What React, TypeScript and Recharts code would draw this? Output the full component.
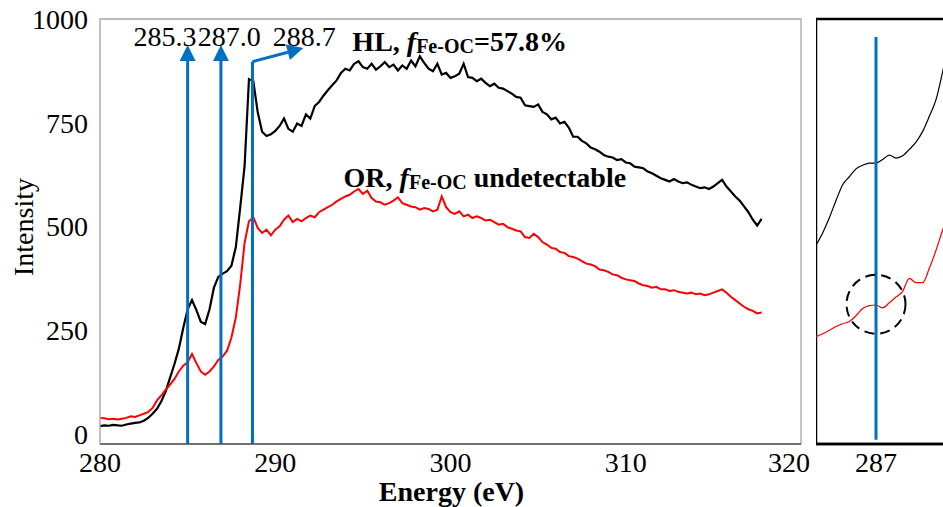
import React from "react";
import {
  LineChart,
  Line,
  XAxis,
  YAxis,
  ReferenceLine,
  ReferenceArea,
  ReferenceDot,
} from "recharts";

const FONT = '"Liberation Serif", "Times New Roman", serif';
const BLUE = "#0070C0";

// sampling grid of the main spectra (eV)
const E_START = 280;
const E_STEP = 0.25;

// HL sample, 280.00 .. 317.75 eV
const hlIntensity = [
  18, 20, 19, 21, 20, 19, 22, 24,
  26, 27, 31, 38, 48, 60, 78, 102,
  135, 168, 205, 255, 300, 322, 298, 270,
  264, 300, 352, 378, 386, 392, 405, 450,
  545, 645, 855, 850, 775, 728, 718, 722,
  730, 742, 760, 735, 728, 748, 742, 770,
  760, 790, 800, 815, 828, 840, 852, 870,
  880, 876, 892, 898, 884, 880, 892, 878,
  886, 896, 884, 890, 876, 888, 880, 900,
  886, 910, 894, 880, 874, 892, 866, 870,
  858, 862, 868, 892, 860, 858, 850, 856,
  846, 838, 844, 834, 832, 826, 820, 812,
  810, 792, 790, 788, 794, 776, 770, 758,
  762, 748, 752, 738, 716, 716, 706, 700,
  690, 686, 680, 672, 668, 666, 660, 662,
  654, 652, 644, 642, 640, 632, 628, 622,
  616, 612, 608, 614, 608, 604, 606, 600,
  596, 592, 594, 590, 596, 604, 612, 596,
  584, 572, 562, 548, 534, 516, 502, 518,
];

// OR sample, 280.00 .. 317.75 eV
const orIntensity = [
  38, 37, 35, 36, 34, 36, 38, 42,
  40, 44, 48, 52, 62, 80, 92, 106,
  118, 132, 150, 164, 172, 192, 170, 150,
  142, 150, 162, 178, 186, 200, 232, 280,
  360, 460, 512, 522, 496, 484, 492, 478,
  492, 500, 516, 526, 510, 518, 512, 520,
  526, 522, 534, 540, 546, 552, 560, 566,
  572, 576, 584, 590, 578, 586, 568, 560,
  558, 552, 556, 562, 570, 556, 552, 548,
  546, 540, 544, 542, 536, 540, 572, 546,
  534, 530, 536, 524, 528, 520, 524, 520,
  514, 516, 510, 504, 506, 498, 494, 490,
  488, 474, 472, 482, 474, 462, 456, 448,
  446, 438, 436, 428, 426, 422, 416, 410,
  408, 404, 396, 394, 390, 384, 382, 376,
  372, 370, 368, 362, 358, 356, 352, 354,
  348, 348, 344, 346, 342, 340, 338, 340,
  336, 338, 334, 336, 340, 344, 348, 340,
  330, 322, 314, 306, 300, 296, 290, 292,
];

// peak markers (where the lines are drawn) and their printed labels
const markerEnergy = [285.0, 286.9, 288.7];
const markerLabel = ["285.3", "287.0", "288.7"];
const markerLabelEnergy = [283.71, 287.37, 291.66];

const xTicks = [280, 290, 300, 310, 320];
const yTicks = [0, 250, 500, 750, 1000];

// zoomed inset around 287 eV
const insetEnergy = [
  286.1, 286.2, 286.3, 286.4, 286.5, 286.6, 286.7, 286.8, 286.9, 287.0, 287.1,
  287.2, 287.3, 287.4, 287.5, 287.6, 287.7, 287.8, 287.9, 288.0, 288.1,
];
const insetHL = [
  276, 293, 314, 338, 360, 371, 382, 387, 390, 390, 395,
  401, 397, 400, 409, 419, 434, 455, 478, 517, 560,
];
const insetOR = [
  149, 153, 158, 163, 167, 170, 178, 188, 192, 193, 189,
  196, 204, 212, 230, 224, 224, 244, 269, 297, 322,
];

const spectra = hlIntensity.map((hl, i) => ({
  energy: E_START + i * E_STEP,
  hl,
  or: orIntensity[i],
}));

const insetRows = insetEnergy.map((energy, i) => ({
  energy,
  hl: insetHL[i],
  or: insetOR[i],
}));

function ArrowShape(props: any) {
  const { x1, y1, x2, y2, head } = props;
  const dx = x2 - x1;
  const dy = y2 - y1;
  const len = Math.hypot(dx, dy) || 1;
  const ux = dx / len;
  const uy = dy / len;
  const hl = 16;
  const hw = 8;
  const bx = x2 - ux * hl;
  const by = y2 - uy * hl;
  const px = -uy;
  const py = ux;
  return (
    <g>
      <line
        x1={x1}
        y1={y1}
        x2={head ? bx : x2}
        y2={head ? by : y2}
        stroke={BLUE}
        strokeWidth={3}
      />
      {head && (
        <polygon
          points={`${x2},${y2} ${bx + px * hw},${by + py * hw} ${bx - px * hw},${by - py * hw}`}
          fill={BLUE}
        />
      )}
    </g>
  );
}

function PeakText({ cx, cy, text }: any) {
  return (
    <text
      x={cx}
      y={cy}
      textAnchor="middle"
      fontSize={28}
      fill="#000"
      style={{ fontFamily: FONT }}
    >
      {text}
    </text>
  );
}

function SampleLabel({ cx, cy, name, tail }: any) {
  return (
    <text
      x={cx}
      y={cy}
      fontSize={28}
      fontWeight="bold"
      fill="#000"
      style={{ fontFamily: FONT }}
    >
      {name + ", "}
      <tspan fontStyle="italic">f</tspan>
      <tspan fontSize={20} dy={2}>Fe-OC</tspan>
      <tspan dy={-2}>{tail}</tspan>
    </text>
  );
}

const tickStyle = { fill: "#000", fontSize: 28, fontFamily: FONT };

export default function App() {
  return (
    <div
      style={{
        position: "absolute",
        left: 0,
        top: 0,
        width: 943,
        height: 507,
        overflow: "hidden",
        background: "#fff",
        fontFamily: FONT,
      }}
    >
      <div style={{ position: "absolute", left: 0, top: 0 }}>
        <LineChart
          width={810}
          height={507}
          data={spectra}
          margin={{ top: 19, right: 9, bottom: 0, left: 0 }}
        >
          <ReferenceArea
            x1={280}
            x2={320}
            y1={-25}
            y2={1000}
            fill="none"
            stroke="#a6a6a6"
            strokeWidth={1.3}
          />
          <XAxis
            dataKey="energy"
            type="number"
            domain={[280, 320]}
            ticks={xTicks}
            height={63}
            tickLine={false}
            axisLine={{ stroke: "#595959", strokeWidth: 1.3 }}
            tick={tickStyle}
            label={{
              content: ({ viewBox }: any) => (
                <text
                  x={viewBox.x + viewBox.width / 2 + 1}
                  y={viewBox.y + 57}
                  textAnchor="middle"
                  fontSize={28}
                  fontWeight="bold"
                  fill="#000"
                  style={{ fontFamily: FONT }}
                >
                  Energy (eV)
                </text>
              ),
            }}
          />
          <YAxis
            type="number"
            domain={[-25, 1000]}
            ticks={yTicks}
            width={100}
            tickLine={false}
            tickMargin={6}
            axisLine={{ stroke: "#bfbfbf", strokeWidth: 1.3 }}
            tick={tickStyle}
            label={{
              content: ({ viewBox }: any) => {
                const x = viewBox.x + 23;
                const y = 227;
                return (
                  <text
                    x={x}
                    y={y}
                    transform={`rotate(-90 ${x} ${y})`}
                    textAnchor="middle"
                    dominantBaseline="central"
                    fontSize={28}
                    fill="#000"
                    style={{ fontFamily: FONT }}
                  >
                    Intensity
                  </text>
                );
              },
            }}
          />
          <Line
            type="linear"
            dataKey="hl"
            stroke="#000"
            strokeWidth={2.2}
            dot={false}
            isAnimationActive={false}
          />
          <Line
            type="linear"
            dataKey="or"
            stroke="#ff0000"
            strokeWidth={2}
            dot={false}
            isAnimationActive={false}
          />
          {markerEnergy.slice(0, 2).map((e) => (
            <ReferenceLine
              key={`m-${e}`}
              segment={[
                { x: e, y: -25 },
                { x: e, y: 937 },
              ]}
              shape={(p: any) => <ArrowShape {...p} head />}
            />
          ))}
          <ReferenceLine
            segment={[
              { x: markerEnergy[2], y: -25 },
              { x: markerEnergy[2], y: 897 },
            ]}
            shape={(p: any) => <ArrowShape {...p} />}
          />
          <ReferenceLine
            segment={[
              { x: markerEnergy[2], y: 897 },
              { x: 291.6, y: 930 },
            ]}
            shape={(p: any) => <ArrowShape {...p} head />}
          />
          {markerLabel.map((t, i) => (
            <ReferenceDot
              key={`l-${t}`}
              x={markerLabelEnergy[i]}
              y={934}
              r={0}
              shape={(p: any) => <PeakText cx={p.cx} cy={p.cy} text={t} />}
            />
          ))}
          <ReferenceDot
            x={294.4}
            y={923}
            r={0}
            shape={(p: any) => (
              <SampleLabel cx={p.cx} cy={p.cy} name="HL" tail="=57.8%" />
            )}
          />
          <ReferenceDot
            x={293.9}
            y={596}
            r={0}
            shape={(p: any) => (
              <SampleLabel cx={p.cx} cy={p.cy} name="OR" tail=" undetectable" />
            )}
          />
        </LineChart>
      </div>

      <div style={{ position: "absolute", left: 816, top: 0 }}>
        <LineChart
          width={140}
          height={507}
          data={insetRows}
          margin={{ top: 19, right: 0, bottom: 0, left: 0 }}
        >
          <XAxis
            dataKey="energy"
            type="number"
            domain={[286.1, 288.2]}
            ticks={[287]}
            height={63}
            tickLine={false}
            axisLine={{ stroke: "#000", strokeWidth: 2.5 }}
            tick={tickStyle}
          />
          <YAxis hide type="number" domain={[0, 590]} />
          <ReferenceArea
            x1={286.1}
            x2={288.2}
            y1={0}
            y2={590}
            fill="none"
            stroke="#000"
            strokeWidth={2.5}
          />
          <Line
            type="monotone"
            dataKey="hl"
            stroke="#000"
            strokeWidth={1.2}
            dot={false}
            isAnimationActive={false}
          />
          <Line
            type="monotone"
            dataKey="or"
            stroke="#ff0000"
            strokeWidth={1.2}
            dot={false}
            isAnimationActive={false}
          />
          <ReferenceLine
            segment={[
              { x: 287, y: 6 },
              { x: 287, y: 565 },
            ]}
            stroke={BLUE}
            strokeWidth={3}
          />
          <ReferenceDot
            x={287}
            y={194}
            r={29.5}
            fill="none"
            stroke="#000"
            strokeWidth={2}
            strokeDasharray="10 6"
          />
        </LineChart>
      </div>
    </div>
  );
}
